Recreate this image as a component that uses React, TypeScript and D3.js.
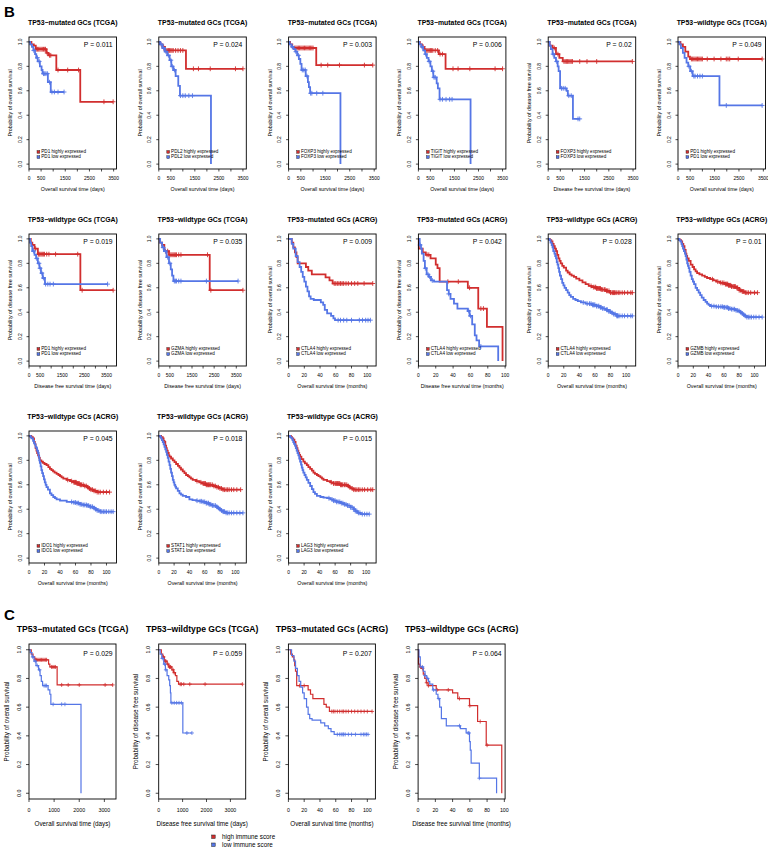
import React from 'react';
import * as d3 from 'd3';

type Step = [number, number];

// ---------- panel texts ----------
const titlesB = [
  'TP53−mutated GCs (TCGA)', 'TP53−mutated GCs (TCGA)', 'TP53−mutated GCs (TCGA)', 'TP53−mutated GCs (TCGA)', 'TP53−mutated GCs (TCGA)', 'TP53−wildtype GCs (TCGA)',
  'TP53−wildtype GCs (TCGA)', 'TP53−wildtype GCs (TCGA)', 'TP53−mutated GCs (ACRG)', 'TP53−mutated GCs (ACRG)', 'TP53−wildtype GCs (ACRG)', 'TP53−wildtype GCs (ACRG)',
  'TP53−wildtype GCs (ACRG)', 'TP53−wildtype GCs (ACRG)', 'TP53−wildtype GCs (ACRG)',
];
const pValuesB = ['P = 0.011', 'P = 0.024', 'P = 0.003', 'P = 0.006', 'P = 0.02', 'P = 0.049', 'P = 0.019', 'P = 0.035', 'P = 0.009', 'P = 0.042', 'P = 0.028', 'P = 0.01', 'P = 0.045', 'P = 0.018', 'P = 0.015'];
const genesB = ['PD1', 'PDL2', 'FOXP3', 'TIGIT', 'FOXP3', 'PD1', 'PD1', 'GZMA', 'CTLA4', 'CTLA4', 'CTLA4', 'GZMB', 'IDO1', 'STAT1', 'LAG3'];
// 'os' = overall survival, 'dfs' = disease free survival ; 'days' or 'months'
const endpointB = ['os', 'os', 'os', 'os', 'dfs', 'os', 'dfs', 'dfs', 'os', 'dfs', 'os', 'os', 'os', 'os', 'os'];
const unitB = ['days', 'days', 'days', 'days', 'days', 'days', 'days', 'days', 'months', 'months', 'months', 'months', 'months', 'months', 'months'];

const titlesC = ['TP53−mutated GCs (TCGA)', 'TP53−wildtype GCs (TCGA)', 'TP53−mutated GCs (ACRG)', 'TP53−wildtype GCs (ACRG)'];
const pValuesC = ['P = 0.029', 'P = 0.059', 'P = 0.207', 'P = 0.064'];
const endpointC = ['os', 'dfs', 'os', 'dfs'];
const unitC = ['days', 'days', 'months', 'months'];
const legendC = ['high immune score', 'low immune score'];

const yTicks = [0, 0.2, 0.4, 0.6, 0.8, 1.0];
const daysTicksB = [0, 500, 1000, 1500, 2000, 2500, 3000, 3500];
const daysLabelsB = [0, 500, 1500, 2500, 3500];
const daysTicksC = [0, 1000, 2000, 3000];
const monthTicks = [0, 20, 40, 60, 80, 100];

// ---------- survival data (time, survival) and censoring times ----------
const b1High: Step[] = [[100, 0.98], [200, 0.97], [280, 0.94], [720, 0.91], [800, 0.89], [1130, 0.77], [2120, 0.51]];
const b1HighCens = [300, 350, 400, 450, 500, 550, 600, 650, 680, 750, 850, 900, 1200, 1600, 2050, 3100, 3480];
const b1Low: Step[] = [[50, 0.98], [120, 0.96], [180, 0.93], [250, 0.9], [300, 0.87], [360, 0.84], [450, 0.8], [520, 0.77], [560, 0.74], [780, 0.67], [900, 0.59]];
const b1LowCens = [200, 350, 420, 600, 650, 700, 760, 850, 950, 1050, 1200, 1450];

const b2High: Step[] = [[60, 0.98], [150, 0.96], [250, 0.93], [1130, 0.78]];
const b2HighCens = [200, 300, 350, 400, 450, 500, 550, 600, 700, 800, 900, 1000, 1440, 1650, 2140, 3190, 3500];
const b2Low: Step[] = [[50, 0.98], [150, 0.95], [250, 0.92], [350, 0.89], [450, 0.85], [520, 0.8], [600, 0.77], [700, 0.72], [810, 0.64], [880, 0.56], [2170, 0]];
const b2LowCens = [100, 200, 300, 400, 500, 560, 650, 900, 1000, 1100, 1250, 1400];

const b3High: Step[] = [[60, 0.98], [150, 0.96], [200, 0.95], [1130, 0.81]];
const b3HighCens = [250, 300, 350, 400, 450, 500, 550, 600, 650, 700, 750, 800, 850, 900, 950, 1000, 1330, 1600, 2080, 3100, 3440];
const b3Low: Step[] = [[40, 0.98], [120, 0.96], [200, 0.94], [280, 0.92], [350, 0.89], [420, 0.86], [480, 0.82], [530, 0.77], [700, 0.72], [790, 0.67], [830, 0.63], [880, 0.58], [2120, 0]];
const b3LowCens = [150, 300, 400, 560, 620, 680, 750, 900, 950, 1150, 1400];

const b4High: Step[] = [[60, 0.98], [150, 0.96], [250, 0.93], [850, 0.9], [1130, 0.78]];
const b4HighCens = [200, 300, 350, 400, 450, 500, 550, 600, 700, 800, 900, 1000, 1440, 1650, 2140, 3190, 3500];
const b4Low: Step[] = [[40, 0.98], [120, 0.96], [200, 0.93], [280, 0.9], [350, 0.87], [420, 0.84], [500, 0.8], [560, 0.76], [620, 0.71], [760, 0.66], [810, 0.62], [880, 0.53], [2170, 0]];
const b4LowCens = [150, 300, 450, 600, 650, 700, 900, 1000, 1150, 1300, 1400];

const b5High: Step[] = [[60, 0.97], [180, 0.95], [320, 0.9], [460, 0.87], [600, 0.84]];
const b5HighCens = [250, 400, 650, 700, 750, 800, 850, 900, 950, 1000, 1300, 1600, 2000, 3470];
const b5Low: Step[] = [[60, 0.97], [110, 0.94], [180, 0.9], [250, 0.87], [320, 0.84], [390, 0.8], [430, 0.76], [490, 0.62], [760, 0.6], [810, 0.56], [1020, 0.37]];
const b5LowCens = [200, 350, 550, 620, 700, 850, 950, 1230, 1300];

const b6High: Step[] = [[100, 0.98], [200, 0.96], [300, 0.92], [420, 0.88], [490, 0.86]];
const b6HighCens = [550, 600, 650, 700, 750, 800, 850, 900, 950, 1000, 1200, 1480, 1760, 1980, 2050, 2120, 2470, 3450];
const b6Low: Step[] = [[60, 0.98], [120, 0.95], [200, 0.91], [270, 0.87], [350, 0.83], [420, 0.8], [500, 0.76], [600, 0.72], [1700, 0.48]];
const b6LowCens = [450, 550, 650, 700, 800, 900, 1000, 1980, 3450];

const b7High: Step[] = [[80, 0.97], [150, 0.95], [250, 0.92], [400, 0.875], [2320, 0.58]];
const b7HighCens = [300, 420, 460, 500, 550, 600, 650, 700, 800, 900, 1200, 2200, 2400, 3800];
const b7Low: Step[] = [[50, 0.97], [100, 0.94], [150, 0.9], [250, 0.87], [320, 0.84], [400, 0.8], [470, 0.76], [540, 0.72], [620, 0.68], [720, 0.63]];
const b7LowCens = [200, 350, 450, 500, 580, 650, 750, 850, 950, 1100, 3550];

const b8High: Step[] = [[60, 0.97], [150, 0.95], [250, 0.9], [460, 0.87], [2300, 0.58]];
const b8HighCens = [300, 400, 500, 550, 600, 650, 700, 750, 800, 900, 1000, 2200, 2350, 3800];
const b8Low: Step[] = [[60, 0.97], [150, 0.93], [230, 0.9], [350, 0.85], [460, 0.8], [540, 0.75], [600, 0.7], [660, 0.655]];
const b8LowCens = [200, 300, 400, 500, 700, 750, 800, 900, 1000, 2150, 3580];

const b9High: Step[] = [[4, 0.97], [6, 0.93], [8, 0.89], [10, 0.85], [11.5, 0.8], [22, 0.77], [25, 0.74], [29.5, 0.71], [47, 0.685], [52, 0.66], [56, 0.635]];
const b9HighCens = [58, 60, 62, 64, 66, 68, 70, 73, 76, 80, 84, 88, 96, 107];
const b9Low: Step[] = [[4, 0.96], [6, 0.92], [9, 0.86], [11.5, 0.81], [14, 0.77], [16, 0.73], [18, 0.69], [20, 0.65], [22, 0.61], [24, 0.57], [26, 0.53], [28, 0.51], [32, 0.5], [41, 0.48], [44, 0.46], [46, 0.42], [49, 0.39], [54, 0.37], [57, 0.35], [59, 0.335]];
const b9LowCens = [63, 66, 70, 74, 80, 90, 94, 98, 101, 104];

const b10High: Step[] = [[0.5, 0.92], [5, 0.89], [8.5, 0.87], [14, 0.84], [20, 0.79], [22, 0.76], [24.5, 0.65], [57, 0.6], [69, 0.43], [79, 0.28], [97, 0]];
const b10HighCens = [10, 12, 34, 46, 59, 72, 75];
const b10Low: Step[] = [[1.5, 0.95], [3, 0.92], [4, 0.88], [6, 0.82], [7.5, 0.76], [9.5, 0.71], [12, 0.69], [14.5, 0.66], [18, 0.65], [33, 0.58], [35, 0.55], [37, 0.51], [41, 0.47], [45, 0.43], [57, 0.41], [59, 0.37], [62, 0.3], [65, 0.21], [67, 0.17], [70, 0.12], [92, 0]];
const b10LowCens = [2, 8, 11, 13, 16, 35, 58, 60, 72];

const b11High: Step[] = [[2, 0.99], [4, 0.98], [5.5, 0.96], [7, 0.94], [8.5, 0.92], [10, 0.9], [11.5, 0.87], [13, 0.84], [14.5, 0.82], [16, 0.8], [18, 0.78], [20, 0.765], [23, 0.74], [25, 0.725], [27.5, 0.71], [30, 0.7], [33, 0.69], [36, 0.675], [40, 0.66], [44, 0.645], [48, 0.63], [52, 0.615], [56, 0.605], [62, 0.595], [68, 0.585], [74, 0.575], [79, 0.56]];
const b11HighCens = [55, 58, 60, 61, 62, 63, 64, 65, 66, 67, 68, 70, 72, 73, 75, 76, 78, 80, 82, 83, 84, 85, 86, 88, 90, 92, 95, 98, 102, 106, 108];
const b11Low: Step[] = [[1.5, 0.99], [3, 0.97], [4.5, 0.95], [5.5, 0.93], [6.5, 0.9], [8, 0.88], [9, 0.86], [10, 0.84], [11, 0.81], [12, 0.79], [13, 0.76], [14, 0.73], [15, 0.7], [16.5, 0.67], [18, 0.64], [19.5, 0.62], [21, 0.6], [23, 0.58], [25, 0.56], [27, 0.54], [29, 0.525], [32, 0.51], [35, 0.5], [38, 0.49], [42, 0.48], [48, 0.47], [56, 0.46], [62, 0.45], [66, 0.44], [70, 0.43], [74, 0.42], [78, 0.405], [81, 0.395], [84, 0.385], [88, 0.37]];
const b11LowCens = [45, 50, 53, 55, 57, 58, 59, 60, 62, 64, 65, 67, 68, 70, 72, 75, 76, 78, 80, 82, 84, 86, 88, 89, 90, 92, 95, 98, 102, 106, 108];

const b12High: Step[] = [[2, 0.99], [4, 0.98], [5.5, 0.96], [7, 0.94], [8.5, 0.91], [10, 0.88], [11, 0.86], [12, 0.84], [14, 0.82], [16.5, 0.79], [19, 0.77], [21, 0.75], [23, 0.735], [25, 0.72], [28, 0.71], [31.5, 0.7], [35, 0.69], [38, 0.68], [42, 0.67], [46, 0.66], [50, 0.65], [55, 0.64], [61, 0.63], [66, 0.62], [70, 0.61], [76, 0.6], [80, 0.58], [83, 0.57], [87, 0.56]];
const b12HighCens = [45, 52, 56, 58, 60, 62, 63, 64, 65, 66, 67, 68, 69, 70, 72, 73, 74, 75, 77, 78, 80, 82, 84, 85, 86, 88, 90, 92, 95, 100, 104];
const b12Low: Step[] = [[1.5, 0.99], [3, 0.98], [4.5, 0.96], [5.5, 0.94], [6.5, 0.92], [7.7, 0.9], [9, 0.88], [10, 0.86], [11, 0.83], [12, 0.8], [13, 0.78], [14, 0.76], [15, 0.73], [16.5, 0.7], [18, 0.67], [19.5, 0.65], [21, 0.63], [23, 0.6], [25, 0.58], [27, 0.56], [29, 0.54], [31, 0.52], [33.5, 0.5], [36, 0.485], [38, 0.47], [40, 0.46], [42, 0.45], [50, 0.445], [60, 0.44], [66, 0.43], [70, 0.425], [75, 0.415], [78.5, 0.41], [81, 0.4], [83, 0.39], [85, 0.38], [87, 0.37], [90, 0.36]];
const b12LowCens = [44, 47, 50, 53, 56, 58, 60, 61, 63, 65, 66, 68, 70, 72, 74, 76, 78, 80, 82, 84, 86, 88, 90, 92, 94, 96, 99, 102, 106, 110];

const b13High: Step[] = [[3, 0.99], [5, 0.98], [6.5, 0.95], [7.5, 0.93], [8.5, 0.9], [9.6, 0.88], [10.5, 0.86], [11.7, 0.84], [13, 0.82], [14, 0.8], [16, 0.79], [18, 0.78], [20, 0.77], [22.6, 0.76], [25, 0.745], [27, 0.73], [29, 0.72], [31, 0.71], [33, 0.7], [35.6, 0.69], [38, 0.68], [40, 0.67], [42, 0.66], [44.3, 0.65], [48.7, 0.64], [53, 0.63], [57.4, 0.62], [61.7, 0.61], [66, 0.6], [70.4, 0.59], [74.8, 0.58], [77, 0.57], [79, 0.56], [83.5, 0.55], [87.8, 0.54]];
const b13HighCens = [50, 55, 58, 59, 60, 61, 62, 63, 64, 65, 66, 67, 68, 70, 72, 74, 76, 78, 80, 82, 84, 86, 88, 90, 92, 96, 100, 104];
const b13Low: Step[] = [[2, 0.99], [3, 0.98], [5.2, 0.96], [6.5, 0.94], [7.4, 0.93], [8.5, 0.91], [9.6, 0.9], [10.5, 0.88], [11.7, 0.86], [12.5, 0.83], [13.3, 0.8], [14, 0.78], [15, 0.75], [16, 0.72], [17, 0.695], [18.2, 0.67], [19.3, 0.645], [20.4, 0.62], [21.5, 0.6], [22.6, 0.58], [24.5, 0.56], [27, 0.53], [29, 0.515], [31.3, 0.5], [33.5, 0.49], [35.6, 0.48], [40, 0.47], [48.7, 0.46], [57.4, 0.455], [62, 0.45], [66, 0.44], [70, 0.435], [74.8, 0.43], [79, 0.42], [83.5, 0.41], [86, 0.4], [87.8, 0.39], [92, 0.38]];
const b13LowCens = [55, 58, 60, 62, 64, 66, 68, 70, 72, 74, 75, 77, 79, 80, 82, 84, 86, 88, 90, 92, 94, 96, 98, 100, 103, 106, 108.6];

const b14High: Step[] = [[3, 0.99], [5.2, 0.98], [6.3, 0.96], [7.4, 0.95], [8.5, 0.92], [9.6, 0.9], [10.5, 0.88], [11.7, 0.86], [13, 0.84], [14, 0.83], [16, 0.815], [18.3, 0.8], [20.5, 0.785], [22.6, 0.77], [25, 0.755], [27, 0.74], [29, 0.725], [31.3, 0.71], [33.5, 0.695], [35.6, 0.68], [38, 0.67], [40, 0.66], [42, 0.65], [44.3, 0.64], [48.7, 0.63], [53, 0.62], [57, 0.61], [61.7, 0.6], [70.4, 0.59], [75, 0.58], [79, 0.57], [83.5, 0.56]];
const b14HighCens = [50, 55, 58, 59, 60, 61, 62, 63, 64, 65, 66, 67, 68, 70, 72, 74, 76, 78, 80, 82, 84, 86, 88, 90, 92, 95, 98, 102, 107];
const b14Low: Step[] = [[2, 0.99], [3, 0.98], [4, 0.965], [5.2, 0.95], [6.3, 0.93], [7.4, 0.91], [8.5, 0.89], [9.6, 0.87], [10.5, 0.845], [11.7, 0.82], [12.8, 0.79], [14, 0.76], [15, 0.73], [16, 0.7], [17.2, 0.67], [18.3, 0.64], [19.4, 0.62], [20.4, 0.6], [21.5, 0.585], [22.6, 0.57], [24.8, 0.55], [27, 0.53], [29, 0.52], [31.3, 0.51], [35.6, 0.5], [40, 0.48], [44, 0.475], [48.7, 0.47], [53, 0.465], [57.4, 0.46], [62, 0.45], [66, 0.44], [70, 0.43], [74.8, 0.42], [77, 0.41], [79, 0.4], [81, 0.39], [83.5, 0.38], [87.8, 0.37]];
const b14LowCens = [50, 54, 56, 58, 60, 62, 63, 65, 66, 68, 70, 72, 74, 76, 78, 80, 82, 84, 85, 86, 88, 90, 92, 95, 98, 102, 106, 110];

const b15High: Step[] = [[3, 0.99], [4.5, 0.98], [6, 0.97], [7.5, 0.95], [9, 0.92], [10.4, 0.9], [11.5, 0.88], [12.6, 0.86], [13.7, 0.845], [14.8, 0.83], [16.5, 0.81], [19, 0.79], [21, 0.775], [23.5, 0.76], [25.5, 0.745], [27.8, 0.73], [30, 0.715], [32, 0.7], [34, 0.69], [36.5, 0.68], [38.5, 0.67], [41, 0.66], [43, 0.65], [45, 0.64], [49.6, 0.63], [54, 0.62], [58, 0.61], [67, 0.6], [75.6, 0.59], [78, 0.58], [80, 0.57], [84, 0.56]];
const b15HighCens = [55, 58, 60, 61, 62, 63, 64, 65, 66, 67, 68, 69, 70, 72, 73, 75, 77, 79, 82, 84, 86, 88, 90, 92, 95, 98, 102, 106, 108.5];
const b15Low: Step[] = [[2, 0.99], [3, 0.985], [4, 0.98], [5, 0.965], [6, 0.95], [7, 0.935], [8.3, 0.92], [9.3, 0.9], [10.4, 0.88], [11.5, 0.86], [12.6, 0.84], [13.7, 0.815], [14.8, 0.79], [16, 0.765], [17, 0.74], [18, 0.72], [19, 0.7], [20.5, 0.68], [22, 0.66], [23.5, 0.64], [25.5, 0.615], [27.8, 0.59], [30, 0.565], [32, 0.54], [34, 0.525], [36.5, 0.51], [41, 0.5], [45, 0.495], [49.6, 0.49], [54, 0.48], [58, 0.47], [62, 0.46], [67, 0.45], [71, 0.44], [75.6, 0.43], [80, 0.415], [84, 0.4], [86, 0.385], [88.7, 0.37], [93, 0.36]];
const b15LowCens = [52, 56, 58, 60, 62, 64, 66, 68, 70, 72, 74, 76, 78, 80, 82, 84, 86, 88, 90, 92, 95, 98, 101, 104];

const c1High: Step[] = [[90, 0.97], [160, 0.95], [230, 0.93], [780, 0.9], [830, 0.88], [1120, 0.755]];
const c1HighCens = [260, 300, 350, 400, 450, 500, 550, 600, 650, 700, 900, 950, 1000, 1050, 1300, 1560, 2000, 3030, 3330];
const c1Low: Step[] = [[50, 0.98], [120, 0.95], [200, 0.92], [280, 0.89], [380, 0.86], [440, 0.82], [490, 0.78], [540, 0.75], [760, 0.72], [830, 0.69], [870, 0.62], [2070, 0]];
const c1LowCens = [150, 250, 330, 420, 600, 650, 700, 960, 1300, 1430];

const c2High: Step[] = [[110, 0.97], [170, 0.95], [240, 0.92], [350, 0.9], [420, 0.88], [550, 0.86], [620, 0.84], [700, 0.82], [760, 0.78], [830, 0.76]];
const c2HighCens = [200, 280, 300, 380, 450, 480, 500, 600, 650, 900, 950, 1050, 1300, 1940, 3500];
const c2Low: Step[] = [[60, 0.97], [130, 0.94], [210, 0.9], [280, 0.86], [350, 0.82], [420, 0.79], [460, 0.75], [490, 0.7], [510, 0.63], [1010, 0.42]];
const c2LowCens = [150, 250, 300, 550, 650, 750, 850, 950, 1180, 1390];

const c3High: Step[] = [[3, 0.97], [5, 0.95], [7, 0.93], [8, 0.89], [9, 0.85], [10.5, 0.75], [25, 0.72], [28, 0.69], [31, 0.66], [45, 0.62], [48, 0.6], [52, 0.57]];
const c3HighCens = [14, 20, 55, 57, 59, 62, 65, 68, 70, 73, 76, 80, 84, 88, 92, 96, 100, 106];
const c3Low: Step[] = [[4, 0.96], [7, 0.92], [9, 0.87], [11.4, 0.82], [13.5, 0.78], [15.6, 0.74], [18, 0.7], [20, 0.66], [23, 0.6], [25, 0.55], [27, 0.52], [30, 0.51], [41, 0.49], [46, 0.47], [50.6, 0.45], [54, 0.43], [58, 0.41]];
const c3LowCens = [62, 65, 67, 69, 70, 72, 76, 80, 85, 92, 95, 97, 99, 101];

const c4High: Step[] = [[0.5, 0.9], [2, 0.88], [4, 0.87], [6, 0.83], [7.7, 0.8], [9.5, 0.77], [11.5, 0.75], [21, 0.72], [40, 0.7], [46, 0.66], [59.6, 0.61], [69, 0.5], [79, 0.335], [97, 0]];
const c4HighCens = [3, 5, 10, 12, 22, 35, 48, 60, 72, 80];
const c4Low: Step[] = [[1, 0.95], [2.5, 0.88], [6, 0.85], [8, 0.82], [10, 0.8], [12, 0.78], [13.5, 0.76], [17, 0.72], [21, 0.69], [23, 0.66], [25, 0.6], [27, 0.52], [32.7, 0.47], [49, 0.45], [55.7, 0.42], [59.6, 0.36], [60.5, 0.3], [61.5, 0.21], [71, 0.105], [91, 0]];
const c4LowCens = [5, 8, 11, 18, 24, 48, 58, 59, 71];

const highB = [b1High, b2High, b3High, b4High, b5High, b6High, b7High, b8High, b9High, b10High, b11High, b12High, b13High, b14High, b15High];
const highCensB = [b1HighCens, b2HighCens, b3HighCens, b4HighCens, b5HighCens, b6HighCens, b7HighCens, b8HighCens, b9HighCens, b10HighCens, b11HighCens, b12HighCens, b13HighCens, b14HighCens, b15HighCens];
const lowB = [b1Low, b2Low, b3Low, b4Low, b5Low, b6Low, b7Low, b8Low, b9Low, b10Low, b11Low, b12Low, b13Low, b14Low, b15Low];
const lowCensB = [b1LowCens, b2LowCens, b3LowCens, b4LowCens, b5LowCens, b6LowCens, b7LowCens, b8LowCens, b9LowCens, b10LowCens, b11LowCens, b12LowCens, b13LowCens, b14LowCens, b15LowCens];
const highC = [c1High, c2High, c3High, c4High];
const highCensC = [c1HighCens, c2HighCens, c3HighCens, c4HighCens];
const lowC = [c1Low, c2Low, c3Low, c4Low];
const lowCensC = [c1LowCens, c2LowCens, c3LowCens, c4LowCens];

// ---------- styles ----------
const RED = '#d12e2e';
const BLUE = '#5576e6';
const FONT = "'Liberation Sans', Arial, Helvetica, sans-serif";

type Sty = {
  title: number; titleDy: number; p: number; pDy: number; pDx: number; tick: number; tickLen: number;
  yTickX: number; yTitleX: number; axTitle: number; xTickDy: number; xTitleDy: number; lw: number; cens: number; censW: number;
};
const styB: Sty = { title: 6.9, titleDy: -12.5, p: 6.8, pDy: 9.5, pDx: -4, tick: 4.9, tickLen: 2.5, yTickX: -9, yTitleX: -19, axTitle: 5.3, xTickDy: 11, xTitleDy: 22, lw: 1.8, cens: 2.4, censW: 0.9 };
const styC: Sty = { title: 8.6, titleDy: -12, p: 6.8, pDy: 11.5, pDx: -3.5, tick: 5.3, tickLen: 3, yTickX: -10.5, yTitleX: -23, axTitle: 6.3, xTickDy: 13, xTitleDy: 27, lw: 1.2, cens: 2, censW: 0.8 };

function survAt(steps: Step[], t: number) {
  let s = 1;
  for (const [ti, si] of steps) if (ti <= t) s = si;
  return s;
}

type PanelProps = {
  x0: number; y0: number; w: number; h: number; sty: Sty;
  title: string; p: string; endpoint: string; unit: string; gene?: string;
  high: Step[]; highCens: number[]; low: Step[]; lowCens: number[];
  xTicks: number[]; xLabels: number[];
};

function Panel(pp: PanelProps) {
  const { x0, y0, w, h, sty } = pp;
  const endOf = (st: Step[], c: number[]) => Math.max(st[st.length - 1][0], d3.max(c) ?? 0);
  const hiEnd = endOf(pp.high, pp.highCens);
  const loEnd = endOf(pp.low, pp.lowCens);
  const xMax = Math.max(hiEnd, loEnd) * 1.04;
  const xs = d3.scaleLinear().domain([0, xMax]).range([x0, x0 + w]);
  const ys = d3.scaleLinear().domain([-0.04, 1.04]).range([y0 + h, y0]);
  const line = d3.line<Step>().x(d => xs(d[0])).y(d => ys(d[1])).curve(d3.curveStepAfter);
  const pts = (st: Step[], end: number): Step[] => [[0, 1], ...st, [end, st[st.length - 1][1]]];
  const curves = [
    { st: pp.high, c: pp.highCens, end: hiEnd, col: RED },
    { st: pp.low, c: pp.lowCens, end: loEnd, col: BLUE },
  ];
  const bottom = y0 + h;
  const ylab = pp.endpoint === 'os' ? 'Probability of overall survival' : 'Probability of disease free survival';
  const xlab = (pp.endpoint === 'os' ? 'Overall survival time' : 'Disease free survival time') + ` (${pp.unit})`;
  const cx = x0 + w / 2;
  return (
    <g>
      <text x={cx} y={y0 + sty.titleDy} textAnchor="middle" fontWeight="bold" fontSize={sty.title}>{pp.title}</text>
      {curves.map((cv, i) => (
        <g key={i}>
          <path d={line(pts(cv.st, cv.end)) || ''} fill="none" stroke={cv.col} strokeWidth={sty.lw} strokeLinejoin="miter" />
          {cv.c.map((t, j) => {
            const px = xs(t), py = ys(survAt(cv.st, t));
            return (
              <g key={j} stroke={cv.col} strokeWidth={sty.censW}>
                <line x1={px} x2={px} y1={py - sty.cens} y2={py + sty.cens} />
                <line x1={px - sty.cens} x2={px + sty.cens} y1={py} y2={py} />
              </g>
            );
          })}
        </g>
      ))}
      <rect x={x0} y={y0} width={w} height={h} fill="none" stroke="#000" strokeWidth={0.9} />
      {pp.xTicks.filter(t => t <= xMax).map(t => (
        <line key={'xt' + t} x1={xs(t)} x2={xs(t)} y1={bottom} y2={bottom + sty.tickLen} stroke="#000" strokeWidth={0.7} />
      ))}
      {pp.xLabels.filter(t => t <= xMax).map(t => (
        <text key={'xl' + t} x={xs(t)} y={bottom + sty.xTickDy} textAnchor="middle" fontSize={sty.tick}>{t}</text>
      ))}
      {yTicks.map(t => (
        <g key={'yt' + t}>
          <line x1={x0} x2={x0 - sty.tickLen} y1={ys(t)} y2={ys(t)} stroke="#000" strokeWidth={0.7} />
          <text transform={`translate(${x0 + sty.yTickX},${ys(t)}) rotate(-90)`} textAnchor="middle" dominantBaseline="central" fontSize={sty.tick}>{t.toFixed(1)}</text>
        </g>
      ))}
      <text transform={`translate(${x0 + sty.yTitleX},${y0 + h / 2}) rotate(-90)`} textAnchor="middle" dominantBaseline="central" fontSize={sty.axTitle}>{ylab}</text>
      <text x={cx} y={bottom + sty.xTitleDy} textAnchor="middle" fontSize={sty.axTitle}>{xlab}</text>
      <text x={x0 + w + sty.pDx} y={y0 + sty.pDy} textAnchor="end" fontSize={sty.p}>{pp.p}</text>
      {pp.gene && [0, 1].map(i => (
        <g key={'lg' + i}>
          <rect x={x0 + 8} y={bottom - 18.5 + i * 5.2} width={2.8} height={2.8} fill={i === 0 ? RED : BLUE} stroke="#222" strokeWidth={0.4} />
          <text x={x0 + 12.3} y={bottom - 15.9 + i * 5.2} fontSize={4.6}>{`${pp.gene} ${i === 0 ? 'highly' : 'low'} expressed`}</text>
        </g>
      ))}
    </g>
  );
}

export default function App() {
  const colStep = 129.8;
  const bRowTops = [37, 234, 431];
  return (
    <svg width={768} height={851} style={{ position: 'absolute', left: 0, top: 0, background: '#fff' }} fontFamily={FONT}>
      <rect x={0} y={0} width={768} height={851} fill="#fff" />
      <text x={4} y={17} fontSize={15} fontWeight="bold">B</text>
      {titlesB.map((t, i) => {
        const row = Math.floor(i / 6), col = i % 6;
        const days = unitB[i] === 'days';
        return (
          <Panel key={'b' + i} x0={29 + col * colStep} y0={bRowTops[row]} w={87.5} h={132} sty={styB}
            title={t} p={pValuesB[i]} endpoint={endpointB[i]} unit={unitB[i]} gene={genesB[i]}
            high={highB[i]} highCens={highCensB[i]} low={lowB[i]} lowCens={lowCensB[i]}
            xTicks={days ? daysTicksB : monthTicks} xLabels={days ? daysLabelsB : monthTicks} />
        );
      })}
      <text x={4} y={620} fontSize={15} fontWeight="bold">C</text>
      {titlesC.map((t, i) => {
        const days = unitC[i] === 'days';
        return (
          <Panel key={'c' + i} x0={29 + i * 129.7} y0={644} w={87} h={155} sty={styC}
            title={t} p={pValuesC[i]} endpoint={endpointC[i]} unit={unitC[i]}
            high={highC[i]} highCens={highCensC[i]} low={lowC[i]} lowCens={lowCensC[i]}
            xTicks={days ? daysTicksC : monthTicks} xLabels={days ? daysTicksC : monthTicks} />
        );
      })}
      {legendC.map((l, i) => (
        <g key={'lc' + i}>
          <rect x={211.7} y={835 + i * 8} width={3.5} height={3.5} fill={i === 0 ? RED : BLUE} stroke="#222" strokeWidth={0.5} />
          <text x={222} y={839 + i * 8} fontSize={6.3}>{l}</text>
        </g>
      ))}
    </svg>
  );
}
